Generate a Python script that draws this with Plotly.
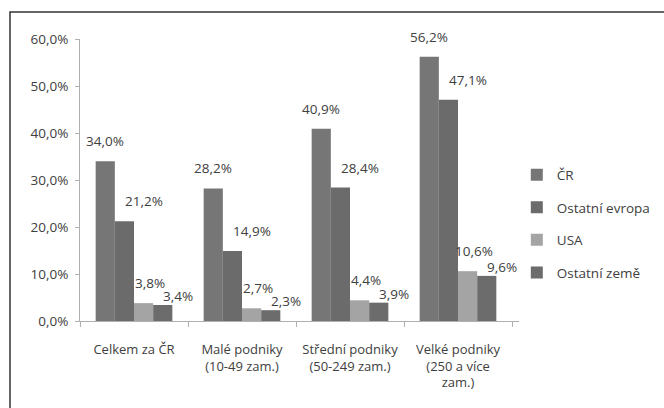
import plotly.graph_objects as go

# Podíl podniků podle velikosti a země vlastníka
categories = ["Celkem za ČR", "Malé podniky<br>(10-49 zam.)",
              "Střední podniky<br>(50-249 zam.)", "Velké podniky<br>(250 a více<br>zam.)"]
series_names = ["ČR", "Ostatní evropa", "USA", "Ostatní země"]
cr = [34.0, 28.2, 40.9, 56.2]
ostatni_evropa = [21.2, 14.9, 28.4, 47.1]
usa = [3.8, 2.7, 4.4, 10.6]
ostatni_zeme = [3.4, 2.3, 3.9, 9.6]
y_ticks = [0, 10, 20, 30, 40, 50, 60]

series_values = [cr, ostatni_evropa, usa, ostatni_zeme]
colors = ["#767676", "#6b6b6b", "#a4a4a4", "#6c6c6c"]
# label placement per series (pixels): horizontal nudge, height above bar top
label_dx = [-29, 10, 16, 44]
label_dy = [20, 20, 20, 9]

text_color = "#404040"
font_family = "Open Sans, Liberation Sans, sans-serif"
fs = 13.5

W, H = 664, 408
L, R, T, B = 80, 145, 39, 87
pw, ph = W - L - R, H - T - B

fig = go.Figure()
annotations = []
for k, (name, vals, col) in enumerate(zip(series_names, series_values, colors)):
    fig.add_trace(go.Bar(
        x=categories, y=vals, name=name, marker_color=col,
        marker_line_width=0, legendgroup=name,
    ))
    for cat, v in zip(categories, vals):
        annotations.append(dict(
            x=cat, y=v, xref="x", yref="y",
            text=f"{v:.1f}".replace(".", ",") + "%",
            showarrow=False, xanchor="center", yanchor="middle",
            xshift=label_dx[k], yshift=label_dy[k],
            font=dict(size=fs, color=text_color, family=font_family),
        ))

fig.update_layout(
    width=W, height=H, barmode="group", bargap=0.29, bargroupgap=0,
    margin=dict(l=L, r=R, t=T, b=B, autoexpand=False),
    paper_bgcolor="white", plot_bgcolor="white",
    separators=", ",
    font=dict(family=font_family, size=fs, color=text_color),
    showlegend=True,
    legend=dict(x=0.995, y=0.344, xanchor="left", yanchor="middle",
                font=dict(size=fs, color=text_color), tracegroupgap=12,
                itemwidth=30, bgcolor="rgba(0,0,0,0)"),
    xaxis=dict(showline=True, linecolor="#b0b0b0", linewidth=1,
               ticks="outside", tickson="boundaries", ticklen=5,
               tickcolor="#b0b0b0", showgrid=False, ticklabelstandoff=16,
               tickangle=0,
               tickfont=dict(size=13, color=text_color)),
    yaxis=dict(range=[0, 60], tickvals=y_ticks,
               ticktext=[f"{t},0%" for t in y_ticks],
               showline=True, linecolor="#b0b0b0", linewidth=1,
               ticks="outside", ticklen=4, tickcolor="#b0b0b0",
               showgrid=False, zeroline=False, ticklabelstandoff=4,
               tickfont=dict(size=fs, color=text_color)),
    annotations=annotations,
    shapes=[dict(type="rect", xref="paper", yref="paper",
                 x0=(10 - L) / pw, x1=(W + 4 - L) / pw,
                 y0=-(H + 4 - (H - B)) / ph, y1=((H - B) - 12) / ph,
                 line=dict(color="#333333", width=1.5),
                 fillcolor="rgba(0,0,0,0)", layer="below")],
)

fig.write_html("out.html")
